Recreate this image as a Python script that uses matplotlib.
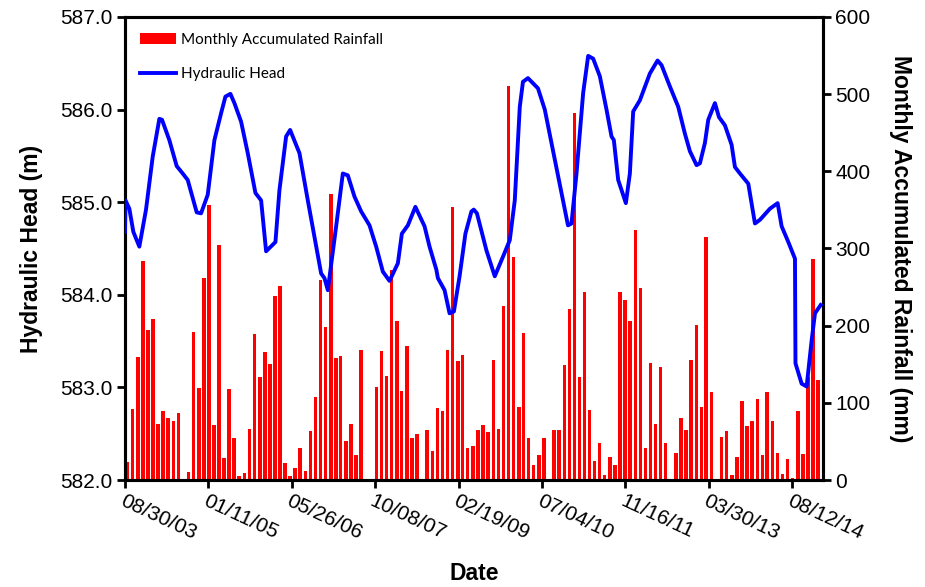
import numpy as np
import pandas as pd
import matplotlib
matplotlib.use("Agg")
import matplotlib.pyplot as plt
import matplotlib.transforms as mtransforms
from matplotlib import font_manager
from matplotlib.patches import Patch
from matplotlib.lines import Line2D

# ---------------- data ----------------
start_date = "2003-08-30"
tick_labels = ["08/30/03", "01/11/05", "05/26/06", "10/08/07", "02/19/09",
               "07/04/10", "11/16/11", "03/30/13", "08/12/14"]

rain_first_month = "2003-09-15"
rain_mm = [23, 92, 159, 284, 194, 209, 73, 90, 80, 76, 87, 0,
           11, 192, 119, 262, 356, 71, 304, 29, 118, 55, 5, 9,
           66, 189, 133, 166, 150, 239, 252, 22, 5, 16, 42, 12,
           63, 108, 259, 198, 371, 158, 161, 50, 72, 32, 168, 0,
           0, 120, 167, 135, 272, 206, 115, 174, 55, 59, 0, 65,
           38, 93, 89, 168, 354, 154, 162, 41, 44, 65, 71, 62,
           155, 66, 226, 511, 289, 95, 190, 55, 20, 32, 55, 0,
           65, 65, 149, 222, 475, 134, 243, 91, 24, 48, 6, 30,
           19, 243, 233, 206, 324, 249, 42, 152, 72, 146, 48, 0,
           35, 80, 65, 155, 201, 95, 315, 114, 0, 56, 64, 7,
           30, 103, 70, 77, 105, 32, 114, 77, 35, 8, 27, 3,
           90, 34, 134, 287, 130]

# hydraulic head: days since start_date, head (m)
head_days = [0, 3, 26, 50, 86, 126, 166, 206, 222, 266, 310, 346, 376, 430, 456,
             496, 536, 576, 602, 632, 656, 696, 736, 782, 816, 846, 902, 926, 966,
             990, 1046, 1096, 1176, 1196, 1216, 1266, 1306, 1336, 1376, 1416, 1466,
             1506, 1546, 1586, 1636, 1660, 1696, 1741, 1796, 1826, 1867, 1876, 1916,
             1946, 1972, 2006, 2041, 2077, 2091, 2110, 2167, 2217, 2266, 2307, 2337,
             2367, 2386, 2416, 2476, 2517, 2577, 2626, 2656, 2677, 2707, 2747, 2777,
             2807, 2847, 2887, 2917, 2931, 2957, 3003, 3027, 3047, 3087, 3147, 3193,
             3217, 3267, 3317, 3357, 3387, 3427, 3447, 3477, 3497, 3537, 3561, 3597,
             3637, 3657, 3687, 3737, 3777, 3807, 3867, 3913, 3937, 3977, 4017, 4020,
             4057, 4087, 4117, 4137, 4171]
head_m = [584.68, 585.02, 584.93, 584.68, 584.52, 584.92, 585.49, 585.90, 585.89,
          585.67, 585.39, 585.31, 585.24, 584.89, 584.88, 585.08, 585.67, 585.96,
          586.14, 586.17, 586.07, 585.87, 585.53, 585.10, 585.02, 584.47, 584.57,
          585.13, 585.71, 585.78, 585.53, 585.02, 584.23, 584.18, 584.05, 584.74,
          585.31, 585.29, 585.06, 584.90, 584.75, 584.52, 584.25, 584.15, 584.34,
          584.66, 584.75, 584.95, 584.74, 584.52, 584.27, 584.18, 584.05, 583.80,
          583.82, 584.20, 584.66, 584.90, 584.92, 584.88, 584.48, 584.20, 584.41,
          584.59, 585.02, 586.03, 586.30, 586.34, 586.23, 586.00, 585.46, 585.02,
          584.75, 584.77, 585.31, 586.18, 586.58, 586.55, 586.36, 586.00, 585.71,
          585.67, 585.24, 584.99, 585.31, 585.98, 586.10, 586.39, 586.53, 586.48,
          586.25, 586.03, 585.74, 585.55, 585.40, 585.42, 585.64, 585.89, 586.07,
          585.92, 585.83, 585.62, 585.38, 585.31, 585.20, 584.77, 584.81, 584.93,
          584.99, 584.74, 584.57, 584.39, 583.26, 583.04, 583.01, 583.51, 583.80,
          583.89]
axis_end_days = 4185

# ---------------- fonts ----------------
available = {f.name for f in font_manager.fontManager.ttflist}
narrow = [f for f in ["Liberation Sans Narrow", "Liberation Sans", "DejaVu Sans"] if f in available]
regular = [f for f in ["Liberation Sans", "DejaVu Sans"] if f in available]
legend_font = [f for f in ["Lato", "Open Sans", "DejaVu Sans"] if f in available]

# ---------------- figure ----------------
fig = plt.figure(figsize=(9.25, 5.87), dpi=100)
ax = fig.add_axes([125/925, 1-480/587, (823-125)/925, (480-17)/587])
ax2 = ax.twinx()

base = pd.Timestamp(start_date)
bar_dates = pd.date_range(pd.Timestamp(rain_first_month) - pd.Timedelta(days=14),
                          periods=len(rain_mm), freq="MS") + pd.Timedelta(days=14)
line_dates = base + pd.to_timedelta(head_days, unit="D")

ax2.bar(bar_dates, rain_mm, width=21, color="#FF0000", edgecolor="none", zorder=2)
ax.plot(line_dates, head_m, color="#0000FF", lw=2.8, solid_joinstyle="round", zorder=3)

ax.set_zorder(ax2.get_zorder() + 1)
ax.patch.set_visible(False)

ax.set_xlim(base, base + pd.Timedelta(days=axis_end_days))
ax.set_ylim(582.0, 587.0)
ax2.set_ylim(0, 600)

ticks = pd.to_datetime(tick_labels, format="%m/%d/%y")
ax.set_xticks(ticks)
ax.set_xticklabels(tick_labels, rotation=-25, ha="left", va="top",
                   rotation_mode="anchor", fontsize=15, family=narrow)
offset = mtransforms.ScaledTranslation(5/100, 0, fig.dpi_scale_trans)
for lab in ax.get_xticklabels():
    lab.set_transform(lab.get_transform() + offset)
yt = np.arange(582.0, 587.01, 1.0)
ax.set_yticks(yt)
ax.set_yticklabels([f"{v:.1f}" for v in yt], fontsize=15, family=narrow)
ax2.set_yticks(np.arange(0, 601, 100))
ax2.set_yticklabels([str(v) for v in range(0, 601, 100)], fontsize=15, family=narrow)

for a in (ax, ax2):
    for s in a.spines.values():
        s.set_linewidth(2.2)
        s.set_color("black")
ax.tick_params(axis="both", direction="out", length=6, width=2, pad=3)
ax.tick_params(axis="x", pad=2)
ax2.tick_params(axis="y", direction="out", length=6, width=2, pad=3)

ax.set_ylabel("Hydraulic Head (m)", fontsize=16.5, fontweight="bold",
              family=regular, labelpad=12)
ax2.set_ylabel("Monthly Accumulated Rainfall (mm)", fontsize=16.5, fontweight="bold",
               family=regular, rotation=270, labelpad=30)
ax.set_xlabel("Date", fontsize=16.5, fontweight="bold", family=regular, labelpad=14)

handles = [Patch(facecolor="#FF0000", edgecolor="none"),
           Line2D([], [], color="#0000FF", lw=2.8)]
leg = ax.legend(handles, ["Monthly Accumulated Rainfall", "Hydraulic Head"],
                loc="upper left", bbox_to_anchor=(0.008, 0.985), frameon=False,
                prop={"family": legend_font, "size": 11}, handlelength=2.4,
                handleheight=0.7, handletextpad=0.3, labelspacing=1.3,
                borderaxespad=0.2)

fig.savefig("out.png", dpi=100)
